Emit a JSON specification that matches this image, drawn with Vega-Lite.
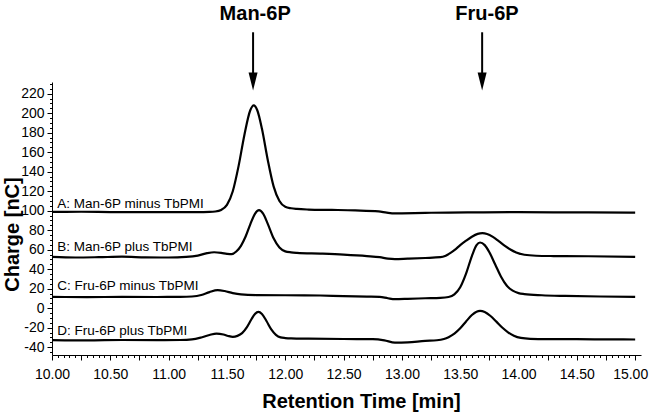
{
  "$schema": "https://vega.github.io/schema/vega-lite/v6.json",
  "width": 589,
  "height": 273,
  "autosize": "none",
  "padding": {"left": 52, "top": 82, "right": 9, "bottom": 59},
  "background": "white",
  "config": {
    "view": {"stroke": null},
    "font": "Liberation Sans",
    "axis": {"grid": false, "domainColor": "black", "tickColor": "black", "labelColor": "black", "titleColor": "black", "domainWidth": 1, "tickWidth": 1}
  },
  "datasets": {
    "traces": [
      {"s":"A","t":10,"v":98.8},{"s":"A","t":10.25,"v":98.9},{"s":"A","t":10.5,"v":98.6},{"s":"A","t":10.75,"v":98.5},{"s":"A","t":11,"v":98.6},{"s":"A","t":11.25,"v":98.6},{"s":"A","t":11.35,"v":98.8},{"s":"A","t":11.4,"v":99.2},{"s":"A","t":11.45,"v":100.8},{"s":"A","t":11.5,"v":106},{"s":"A","t":11.55,"v":120},{"s":"A","t":11.6,"v":146},{"s":"A","t":11.65,"v":178},{"s":"A","t":11.7,"v":203},{"s":"A","t":11.73,"v":208},{"s":"A","t":11.76,"v":203},{"s":"A","t":11.8,"v":184},{"s":"A","t":11.85,"v":152},{"s":"A","t":11.9,"v":125},{"s":"A","t":11.95,"v":110},{"s":"A","t":12,"v":104},{"s":"A","t":12.05,"v":102.5},{"s":"A","t":12.1,"v":101.8},{"s":"A","t":12.2,"v":101.2},{"s":"A","t":12.4,"v":100.8},{"s":"A","t":12.6,"v":100.3},{"s":"A","t":12.8,"v":99.3},{"s":"A","t":12.87,"v":98},{"s":"A","t":12.94,"v":97.2},{"s":"A","t":13,"v":97.3},{"s":"A","t":13.2,"v":97.8},{"s":"A","t":13.4,"v":98.1},{"s":"A","t":13.7,"v":98.3},{"s":"A","t":14,"v":98.5},{"s":"A","t":14.3,"v":98.3},{"s":"A","t":14.6,"v":98.2},{"s":"A","t":15,"v":98.1},
      {"s":"B","t":10,"v":52.6},{"s":"B","t":10.2,"v":52},{"s":"B","t":10.4,"v":52.3},{"s":"B","t":10.6,"v":52.8},{"s":"B","t":10.8,"v":52.2},{"s":"B","t":11,"v":52},{"s":"B","t":11.15,"v":52.6},{"s":"B","t":11.25,"v":54},{"s":"B","t":11.33,"v":56.5},{"s":"B","t":11.39,"v":57.4},{"s":"B","t":11.45,"v":56.8},{"s":"B","t":11.5,"v":55.8},{"s":"B","t":11.54,"v":55.4},{"s":"B","t":11.58,"v":58.2},{"s":"B","t":11.62,"v":64},{"s":"B","t":11.66,"v":73.5},{"s":"B","t":11.7,"v":86},{"s":"B","t":11.74,"v":96.8},{"s":"B","t":11.775,"v":100.5},{"s":"B","t":11.81,"v":97},{"s":"B","t":11.85,"v":86.5},{"s":"B","t":11.9,"v":71.7},{"s":"B","t":11.95,"v":62.2},{"s":"B","t":12,"v":58.3},{"s":"B","t":12.05,"v":57.3},{"s":"B","t":12.1,"v":56.8},{"s":"B","t":12.3,"v":56},{"s":"B","t":12.5,"v":55},{"s":"B","t":12.7,"v":53.5},{"s":"B","t":12.81,"v":52.3},{"s":"B","t":12.88,"v":50.8},{"s":"B","t":12.94,"v":50.3},{"s":"B","t":13.05,"v":50.8},{"s":"B","t":13.2,"v":51.5},{"s":"B","t":13.33,"v":52.3},{"s":"B","t":13.37,"v":53.5},{"s":"B","t":13.4,"v":55.5},{"s":"B","t":13.45,"v":59.5},{"s":"B","t":13.5,"v":64.6},{"s":"B","t":13.55,"v":69.2},{"s":"B","t":13.6,"v":73.3},{"s":"B","t":13.65,"v":76.2},{"s":"B","t":13.69,"v":76.9},{"s":"B","t":13.73,"v":76.1},{"s":"B","t":13.78,"v":73.1},{"s":"B","t":13.83,"v":68.8},{"s":"B","t":13.88,"v":64.2},{"s":"B","t":13.93,"v":60.2},{"s":"B","t":13.98,"v":57.2},{"s":"B","t":14.05,"v":54.8},{"s":"B","t":14.15,"v":53.8},{"s":"B","t":14.3,"v":53.5},{"s":"B","t":14.6,"v":53.3},{"s":"B","t":15,"v":52.6},
      {"s":"C","t":10,"v":11.6},{"s":"C","t":10.3,"v":11.4},{"s":"C","t":10.6,"v":11.6},{"s":"C","t":10.9,"v":11.5},{"s":"C","t":11.1,"v":11.6},{"s":"C","t":11.2,"v":12},{"s":"C","t":11.28,"v":13.5},{"s":"C","t":11.35,"v":16.5},{"s":"C","t":11.42,"v":18.5},{"s":"C","t":11.48,"v":17.6},{"s":"C","t":11.55,"v":15.5},{"s":"C","t":11.62,"v":14.2},{"s":"C","t":11.75,"v":13.5},{"s":"C","t":12,"v":13.3},{"s":"C","t":12.3,"v":13},{"s":"C","t":12.5,"v":12.4},{"s":"C","t":12.7,"v":11.9},{"s":"C","t":12.81,"v":11.6},{"s":"C","t":12.88,"v":10.2},{"s":"C","t":12.94,"v":9.3},{"s":"C","t":13.05,"v":9.6},{"s":"C","t":13.2,"v":10.2},{"s":"C","t":13.33,"v":10.6},{"s":"C","t":13.4,"v":11.5},{"s":"C","t":13.45,"v":14.2},{"s":"C","t":13.5,"v":21.5},{"s":"C","t":13.55,"v":35.5},{"s":"C","t":13.6,"v":53.5},{"s":"C","t":13.64,"v":64.6},{"s":"C","t":13.67,"v":67.4},{"s":"C","t":13.71,"v":64.7},{"s":"C","t":13.75,"v":57.4},{"s":"C","t":13.8,"v":44.8},{"s":"C","t":13.85,"v":32.3},{"s":"C","t":13.9,"v":23},{"s":"C","t":13.95,"v":18},{"s":"C","t":14,"v":15.5},{"s":"C","t":14.05,"v":14.5},{"s":"C","t":14.2,"v":13.3},{"s":"C","t":14.4,"v":12.6},{"s":"C","t":14.7,"v":12},{"s":"C","t":15,"v":11.6},
      {"s":"D","t":10,"v":-32.8},{"s":"D","t":10.3,"v":-33},{"s":"D","t":10.6,"v":-32.6},{"s":"D","t":10.9,"v":-32.8},{"s":"D","t":11.1,"v":-32.6},{"s":"D","t":11.2,"v":-32},{"s":"D","t":11.28,"v":-30},{"s":"D","t":11.35,"v":-27.5},{"s":"D","t":11.41,"v":-26},{"s":"D","t":11.47,"v":-27},{"s":"D","t":11.51,"v":-28.5},{"s":"D","t":11.55,"v":-29.4},{"s":"D","t":11.59,"v":-28.4},{"s":"D","t":11.63,"v":-25.6},{"s":"D","t":11.67,"v":-19.7},{"s":"D","t":11.71,"v":-11.3},{"s":"D","t":11.74,"v":-5.9},{"s":"D","t":11.77,"v":-3.8},{"s":"D","t":11.8,"v":-5.9},{"s":"D","t":11.84,"v":-13.4},{"s":"D","t":11.88,"v":-21.7},{"s":"D","t":11.92,"v":-27.3},{"s":"D","t":11.96,"v":-29.9},{"s":"D","t":12,"v":-30.6},{"s":"D","t":12.05,"v":-31},{"s":"D","t":12.2,"v":-31.3},{"s":"D","t":12.5,"v":-31.6},{"s":"D","t":12.75,"v":-31.8},{"s":"D","t":12.85,"v":-33},{"s":"D","t":12.94,"v":-35.3},{"s":"D","t":13.05,"v":-35},{"s":"D","t":13.2,"v":-33.5},{"s":"D","t":13.3,"v":-32.9},{"s":"D","t":13.36,"v":-31.6},{"s":"D","t":13.4,"v":-29.7},{"s":"D","t":13.45,"v":-26.1},{"s":"D","t":13.5,"v":-20.6},{"s":"D","t":13.55,"v":-13.6},{"s":"D","t":13.6,"v":-7},{"s":"D","t":13.64,"v":-3.6},{"s":"D","t":13.67,"v":-2.8},{"s":"D","t":13.71,"v":-3.9},{"s":"D","t":13.76,"v":-8},{"s":"D","t":13.81,"v":-13.8},{"s":"D","t":13.86,"v":-19.8},{"s":"D","t":13.91,"v":-24.7},{"s":"D","t":13.96,"v":-28.2},{"s":"D","t":14.02,"v":-30.5},{"s":"D","t":14.1,"v":-31.4},{"s":"D","t":14.3,"v":-31.7},{"s":"D","t":14.5,"v":-31.8},{"s":"D","t":14.8,"v":-32},{"s":"D","t":15,"v":-32.1}
    ],
    "labels": [
      {"lab": "A: Man-6P minus TbPMI", "t": 10.045, "v": 103},
      {"lab": "B: Man-6P plus TbPMI", "t": 10.045, "v": 58.5},
      {"lab": "C: Fru-6P minus TbPMI", "t": 10.045, "v": 18.7},
      {"lab": "D: Fru-6P plus TbPMI", "t": 10.045, "v": -27.5}
    ],
    "arrows": [
      {"t": 11.724, "v": 283, "v2": 240},
      {"t": 13.688, "v": 283, "v2": 240}
    ],
    "heads": [
      {"t": 11.724, "v": 232.6},
      {"t": 13.688, "v": 232.6}
    ],
    "names": [
      {"lab": "Man-6P", "t": 11.742, "v": 295.5},
      {"lab": "Fru-6P", "t": 13.73, "v": 295.5}
    ]
  },
  "encoding": {
    "x": {
      "field": "t", "type": "quantitative",
      "scale": {"domain": [10, 15.05], "nice": false, "zero": false},
      "axis": {
        "values": [10,10.05,10.1,10.15,10.2,10.25,10.3,10.35,10.4,10.45,10.5,10.55,10.6,10.65,10.7,10.75,10.8,10.85,10.9,10.95,11,11.05,11.1,11.15,11.2,11.25,11.3,11.35,11.4,11.45,11.5,11.55,11.6,11.65,11.7,11.75,11.8,11.85,11.9,11.95,12,12.05,12.1,12.15,12.2,12.25,12.3,12.35,12.4,12.45,12.5,12.55,12.6,12.65,12.7,12.75,12.8,12.85,12.9,12.95,13,13.05,13.1,13.15,13.2,13.25,13.3,13.35,13.4,13.45,13.5,13.55,13.6,13.65,13.7,13.75,13.8,13.85,13.9,13.95,14,14.05,14.1,14.15,14.2,14.25,14.3,14.35,14.4,14.45,14.5,14.55,14.6,14.65,14.7,14.75,14.8,14.85,14.9,14.95,15],
        "tickSize": {"condition": {"test": "abs(datum.value*4 - round(datum.value*4)) < 0.01", "value": 5}, "value": 2.5},
        "labelExpr": "abs(datum.value*2 - round(datum.value*2)) < 0.01 ? format(datum.value, '.2f') : ''",
        "labelOffset": {"condition": {"test": "datum.value > 14.99", "value": -5}, "value": 0},
        "labelFontSize": 14,
        "labelPadding": 7,
        "labelFlush": false,
        "labelOverlap": false,
        "title": "Retention Time [min]",
        "titleFontSize": 20,
        "titleFontWeight": "bold",
        "titleX": 309,
        "titleY": 52,
        "titleBaseline": "alphabetic",
        "titleAlign": "center"
      }
    },
    "y": {
      "field": "v", "type": "quantitative",
      "scale": {"domain": [-48, 232], "nice": false, "zero": false},
      "axis": {
        "values": [-45,-40,-35,-30,-25,-20,-15,-10,-5,0,5,10,15,20,25,30,35,40,45,50,55,60,65,70,75,80,85,90,95,100,105,110,115,120,125,130,135,140,145,150,155,160,165,170,175,180,185,190,195,200,205,210,215,220,225,230],
        "tickSize": {"condition": {"test": "datum.value % 20 === 0", "value": 5}, "value": 2.5},
        "labelExpr": "datum.value % 20 === 0 ? '' + datum.value : ''",
        "labelFontSize": 14,
        "labelPadding": 3,
        "labelOverlap": false,
        "labelFlush": false,
        "title": "Charge [nC]",
        "titleFontSize": 20,
        "titleFontWeight": "bold",
        "titleX": -33.5,
        "titleY": 152,
        "titleAngle": -90,
        "titleAlign": "center",
        "titleBaseline": "alphabetic"
      }
    }
  },
  "layer": [
    {
      "data": {"name": "traces"},
      "mark": {"type": "line", "color": "black", "strokeWidth": 2.2, "interpolate": "monotone"},
      "encoding": {"detail": {"field": "s"}}
    },
    {
      "data": {"name": "labels"},
      "mark": {"type": "text", "align": "left", "baseline": "alphabetic", "fontSize": 13.5, "color": "black", "font": "Liberation Sans"},
      "encoding": {"text": {"field": "lab"}}
    },
    {
      "data": {"name": "arrows"},
      "mark": {"type": "rule", "color": "black", "strokeWidth": 2},
      "encoding": {"y2": {"field": "v2"}}
    },
    {
      "data": {"name": "heads"},
      "mark": {"type": "point", "shape": "M-0.45,-0.9L0.45,-0.9L0,0.9Z", "filled": true, "color": "black", "size": 400, "opacity": 1, "strokeWidth": 0},
      "encoding": {}
    },
    {
      "data": {"name": "names"},
      "mark": {"type": "text", "align": "center", "baseline": "alphabetic", "fontSize": 20, "fontWeight": "bold", "color": "black", "font": "Liberation Sans"},
      "encoding": {"text": {"field": "lab"}}
    }
  ]
}
